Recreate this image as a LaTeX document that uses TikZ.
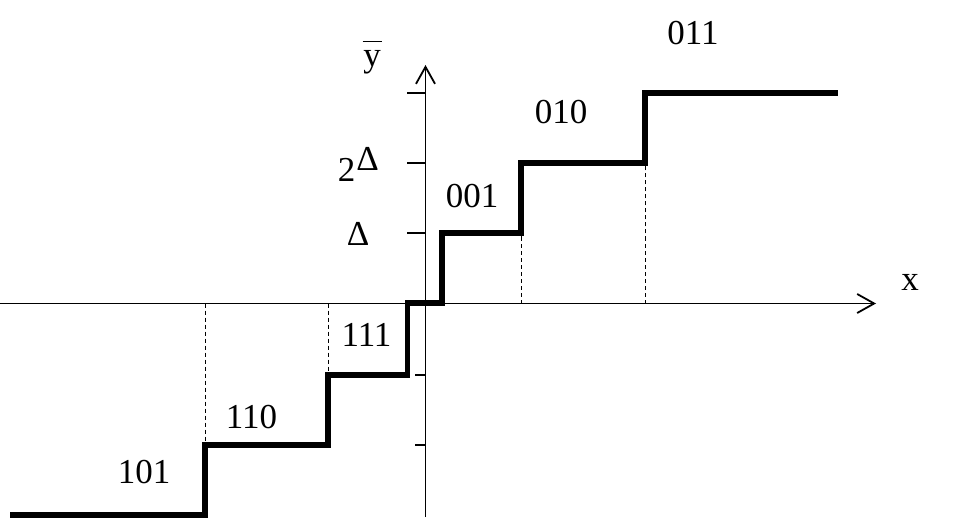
\documentclass[tikz,border=0pt]{standalone}
\usepackage{fontspec}
\setmainfont{Liberation Serif}
\usetikzlibrary{arrows.meta}
\begin{document}
\begin{tikzpicture}[x=1pt,y=-1pt,
  axis/.style={line width=1.5pt,-{Straight Barb[length=17pt,width=19pt,line width=1.8pt]}},
  stair/.style={line width=5.5pt,line cap=butt,line join=miter},
  guide/.style={line width=0.9pt,dash pattern=on 4pt off 3pt},
  tick/.style={line width=1.1pt},
  lbl/.style={inner sep=0pt,font=\fontsize{35}{42}\selectfont}]
\useasboundingbox (0,0) rectangle (960,521);
% axes
\coordinate (xl) at (0,303.5);
\coordinate (xr) at (876,303.5);
\coordinate (yb) at (425.5,517);
\coordinate (yt) at (425.5,65);
\draw[axis] (xl) -- (xr);
\draw[axis] (yb) -- (yt);
% ticks
\foreach \yy in {93,163,233}{\draw[tick] (407,\yy) -- (425.5,\yy);}
\foreach \yy in {375,445}{\draw[tick] (415,\yy) -- (425.5,\yy);}
% guides
\draw[guide] (205,303.5) -- (205,445);
\draw[guide] (328,303.5) -- (328,375);
\draw[guide] (521,303.5) -- (521,233);
\draw[guide] (645,303.5) -- (645,163);
% staircase
\draw[stair] (10,515) -- (205,515) -- (205,445) -- (328,445) -- (328,375)
  -- (407.5,375) -- (407.5,303) -- (442,303) -- (442,233) -- (521,233)
  -- (521,163) -- (645,163) -- (645,93) -- (838,93);
% labels
\node[lbl,anchor=base] (ybar) at (372,67) {\ooalign{y\cr\hidewidth\rule[25pt]{19pt}{1.4pt}\hidewidth\cr}};
\node[lbl] (l011) at (693,33.5) {011};
\node[lbl] (l010) at (561,112) {010};
\node[lbl] (two) at (346.5,169.5) {2};
\node[lbl] (d2) at (367.5,159) {Δ};
\node[lbl] (l001) at (472,196) {001};
\node[lbl] (d1) at (358,234) {Δ};
\node[lbl] (xlab) at (910,282.5) {x};
\node[lbl] (l111) at (366.5,334.5) {111};
\node[lbl] (l110) at (251.5,417) {110};
\node[lbl] (l101) at (144,472.5) {101};
\end{tikzpicture}
\end{document}
